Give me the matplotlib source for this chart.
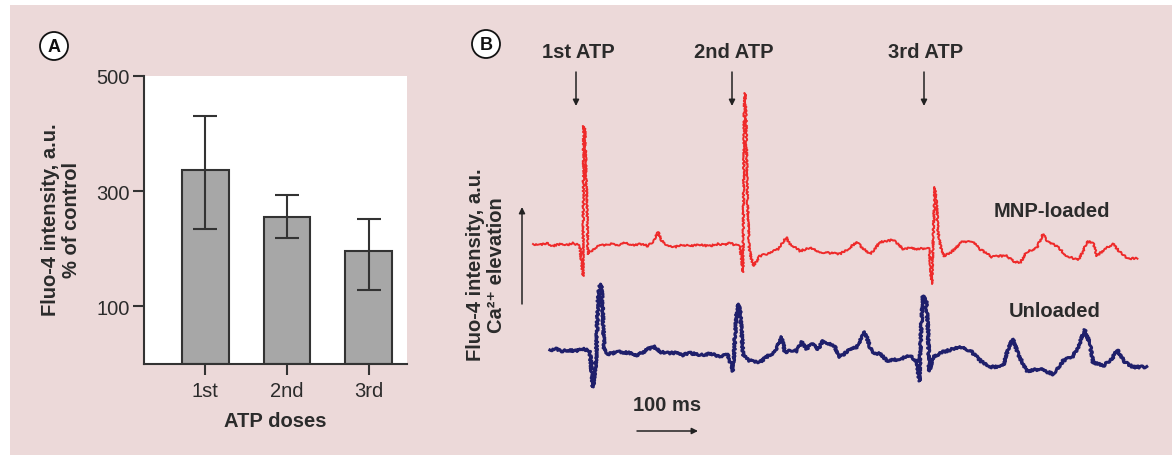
import matplotlib
matplotlib.use('Agg')
from matplotlib import pyplot as plt
from matplotlib.patches import Rectangle, Circle

plt.rcParams['font.family'] = ['Liberation Sans', 'DejaVu Sans']

# PANEL A - mean response per ATP dose (% of control)
doses = ['1st', '2nd', '3rd']
mean_pct = [336, 256, 196]
err_low = [235, 218, 129]
err_high = [430, 294, 251]

# PANEL B - traced Fluo-4 signals (time in ms, intensity in a.u.)
mnp_t = [0, 11, 22, 32, 43, 54, 64, 72, 75, 80, 81, 83, 86, 88, 93, 101, 112, 123, 136, 147,
         160, 173, 184, 192, 200, 206, 214, 227, 240, 251, 267, 283, 296, 307, 315, 323, 331,
         336, 338, 339, 341, 343, 346, 352, 358, 363, 379, 392, 398, 405, 411, 416, 427, 443,
         459, 475, 491, 504, 518, 526, 539, 547, 555, 566, 576, 584, 592, 603, 616, 630, 634,
         638, 643, 646, 648, 653, 658, 667, 675, 688, 696, 702, 715, 734, 747, 758, 768, 779,
         790, 806, 816, 824, 838, 854, 872, 880, 886, 896, 902, 915, 928, 939, 952, 967]
mnp_f = [155, 154, 156, 153, 155, 154, 156, 154, 152, 123, 273, 270, 200, 145, 148, 152, 154, 155, 154, 156,
         154, 155, 153, 157, 167, 158, 154, 152, 154, 153, 154, 153, 155, 154, 156, 154, 153,
         127, 290, 306, 280, 200, 150, 133, 138, 143, 146, 150, 155, 162, 155, 153, 148, 151,
         147, 146, 145, 150, 157, 152, 145, 150, 157, 158, 159, 155, 150, 151, 150, 151, 150,
         115, 212, 195, 167, 150, 143, 146, 150, 158, 157, 158, 150, 142, 143, 143, 138, 136,
         147, 151, 165, 157, 153, 143, 139, 147, 157, 157, 143, 150, 155, 147, 140, 141]

unl_t = [27, 37, 46, 56, 67, 78, 88, 91, 96, 101, 104, 107, 110, 112, 114, 120, 128, 139, 155, 166,
         174, 184, 195, 203, 214, 227, 240, 251, 267, 283, 299, 312, 320, 323, 327, 331, 334,
         336, 344, 355, 363, 376, 387, 398, 403, 411, 422, 430, 437, 446, 456, 464, 475, 483,
         491, 504, 518, 531, 542, 555, 568, 587, 603, 614, 618, 621, 624, 629, 632, 634, 640,
         656, 672, 688, 702, 718, 734, 752, 760, 768, 776, 790, 811, 832, 848, 864, 872, 883,
         891, 896, 912, 926, 935, 947, 960, 982]
unl_f = [49, 50, 48, 49, 48, 50, 49, 47, 12, 40, 100, 115, 113, 80, 50, 45, 46, 47, 46, 44,
         46, 50, 52, 47, 46, 46, 44, 46, 44, 45, 43, 44, 28, 60, 95, 90, 65,
         44, 39, 37, 37, 43, 47, 62, 47, 48, 48, 57, 50, 55, 50, 58, 55, 52,
         42, 48, 52, 67, 47, 45, 38, 40, 43, 38, 18, 70, 103, 98, 70, 28, 42,
         47, 50, 52, 47, 37, 32, 33, 50, 60, 45, 28, 30, 25, 38, 43, 52, 69,
         55, 37, 33, 40, 49, 37, 32, 32]

atp_labels = ['1st ATP', '2nd ATP', '3rd ATP']

W, H = 1172, 456
bg = '#ecd9d9'
ink = '#2b2b2b'
fs = 14.5

fig = plt.figure(figsize=(W / 100, H / 100), dpi=100)
fig.patch.set_facecolor('white')


def box(x0, y0, x1, y1):
    # pixel box (top-left origin) -> figure fraction rect
    return [x0 / W, 1 - y1 / H, (x1 - x0) / W, (y1 - y0) / H]


# overlay in pixel coords for background, letters and annotations
ov = fig.add_axes([0, 0, 1, 1], zorder=-1)
ov.set_xlim(0, W)
ov.set_ylim(H, 0)
ov.axis('off')
ov.add_patch(Rectangle((10, 6), W - 10, H - 6, facecolor=bg, edgecolor='none'))

for (cx, cy), letter in [((54, 47), 'A'), ((486, 45), 'B')]:
    ov.add_patch(Circle((cx, cy), 14, facecolor='white', edgecolor='#111', lw=1.3))
    ov.text(cx, cy + 1, letter, ha='center', va='center', fontsize=13, fontweight='bold', color='#111')

# PANEL A
axA = fig.add_axes(box(144, 77, 407, 365))
axA.set_facecolor('white')
x = list(range(len(doses)))
yerr = [[m - lo for m, lo in zip(mean_pct, err_low)], [hi - m for m, hi in zip(mean_pct, err_high)]]
axA.bar(x, mean_pct, width=0.57, color='#a7a7a7', edgecolor='#333333', linewidth=1.5, zorder=2)
axA.errorbar(x, mean_pct, yerr=yerr, fmt='none', ecolor='#333333', elinewidth=1.5,
             capsize=8.5, capthick=1.5, zorder=3)
axA.set_xlim(-0.75, 2.47)
axA.set_ylim(0, 500)
axA.set_yticks([100, 300, 500])
axA.set_xticks(x)
axA.set_xticklabels(doses)
for s in ['top', 'right']:
    axA.spines[s].set_visible(False)
for s in ['left', 'bottom']:
    axA.spines[s].set_color('#333333')
    axA.spines[s].set_linewidth(1.5)
axA.tick_params(axis='both', direction='out', length=8, width=1.5, color='#333333',
                labelsize=fs, labelcolor=ink)
axA.tick_params(axis='y', pad=2)
axA.tick_params(axis='x', pad=4)

ov.text(61, 220, 'Fluo-4 intensity, a.u.\n% of control', rotation=90, ha='center', va='center',
        multialignment='center', fontsize=fs, fontweight='bold', color=ink, linespacing=1.15)
ov.text(275, 422, 'ATP doses', ha='center', va='center', fontsize=fs, fontweight='bold', color=ink)

# PANEL B
axB = fig.add_axes(box(520, 80, 1160, 400))
axB.patch.set_alpha(0)
l_mnp, = axB.plot(mnp_t, mnp_f, color='#ee2a2a', lw=1.4, solid_joinstyle='round')
l_unl, = axB.plot(unl_t, unl_f, color='#1f1f6b', lw=2.2, solid_joinstyle='round')
# fine recording jitter drawn as a line style
l_mnp.set_sketch_params(scale=0.9, length=3, randomness=3)
l_unl.set_sketch_params(scale=1.1, length=3, randomness=3)
axB.set_xlim(-20.8, 1003.2)
axB.set_ylim(0, 320)
axB.axis('off')

arrow = dict(arrowstyle='-|>', color='#222', lw=1.1, mutation_scale=9, shrinkA=0, shrinkB=0)
for lbl, ax_x in zip(atp_labels, [576, 732, 924]):
    ov.text(ax_x + 2, 52, lbl, ha='center', va='center', fontsize=fs, fontweight='bold', color=ink)
    ov.annotate('', xy=(ax_x, 107), xytext=(ax_x, 73), arrowprops=arrow)

ov.annotate('', xy=(522, 208), xytext=(522, 305), arrowprops=arrow)
ov.text(486, 265, 'Fluo-4 intensity, a.u.\nCa\u00b2\u207a elevation', rotation=90, ha='center', va='center',
        multialignment='center', fontsize=fs, fontweight='bold', color=ink, linespacing=1.15)

ov.text(1052, 212, 'MNP-loaded', ha='center', va='center', fontsize=fs, fontweight='bold', color=ink)
ov.text(1055, 312, 'Unloaded', ha='center', va='center', fontsize=fs, fontweight='bold', color=ink)
ov.text(667, 406, '100 ms', ha='center', va='center', fontsize=fs, fontweight='bold', color=ink)
ov.annotate('', xy=(698, 432), xytext=(637, 432), arrowprops=arrow)

fig.savefig('out.png', dpi=100, facecolor='white')
